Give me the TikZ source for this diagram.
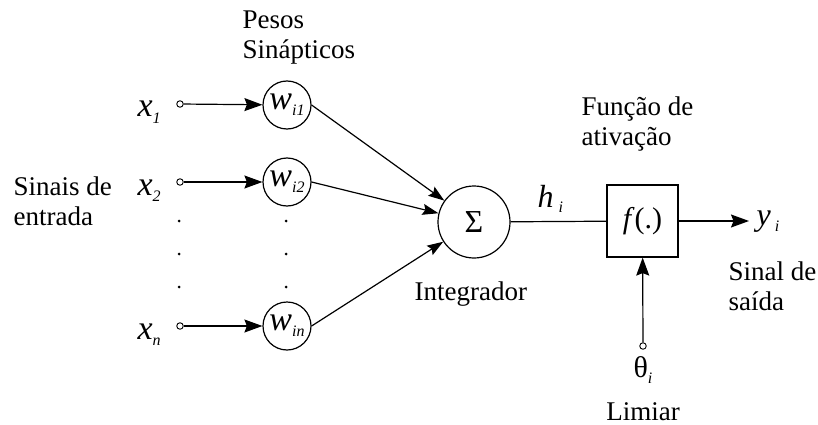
\documentclass[tikz,border=0pt]{standalone}
\usepackage{fontspec}
\setmainfont{Liberation Serif}
\usetikzlibrary{arrows.meta}
\newcommand{\mylbl}[3]{{\fontsize{#3}{#3}\selectfont\textit{#1}}\raisebox{-6pt}{\fontsize{16}{16}\selectfont\textit{#2}}}
\begin{document}
\begin{tikzpicture}[x=1pt,y=-1pt,
  line width=1.2pt,
  arr/.style={-{Stealth[length=18pt,width=13pt,inset=2.5pt]}},
  arrs/.style={-{Stealth[length=16pt,width=11pt,inset=2.5pt]}},
  wnode/.style={circle,draw,minimum size=48pt,inner sep=0pt},
  port/.style={circle,draw,line width=0.9pt,minimum size=6.5pt,inner sep=0pt,fill=white},
  txt/.style={inner sep=0pt,font=\fontsize{27}{30}\selectfont,align=left},
  lbl/.style={inner sep=0pt}
]
\useasboundingbox (0,0) rectangle (818,425);

% input ports
\node[port] (i1) at (180,104) {};
\node[port] (i2) at (180,182) {};
\node[port] (in) at (180,326) {};

% input labels
\node[lbl,anchor=base west] (x1) at (137,117) {\mylbl{x}{1}{34}};
\node[lbl,anchor=base west] (x2) at (137,195) {\mylbl{x}{2}{34}};
\node[lbl,anchor=base west] (xn) at (137,339) {\mylbl{x}{n}{34}};

% weights
\node[wnode] (w1) at (287,105) {\mylbl{w}{i1}{34}};
\node[wnode] (w2) at (287,182) {\mylbl{w}{i2}{34}};
\node[wnode] (wn) at (287,326) {\mylbl{w}{in}{34}};

% dots
\foreach \yy in {221,254,287}{
  \fill (179,\yy) circle (1.5pt);
  \fill (286,\yy) circle (1.5pt);
}

% summation
\node[circle,draw,minimum size=72pt,inner sep=0pt] (s) at (474,222) {\fontsize{32}{32}\selectfont Σ};

% activation box
\node[draw,minimum width=71pt,minimum height=72pt,inner sep=0pt] (f) at (642.5,221) {\fontsize{30}{30}\selectfont\textit{f}(.)};

% threshold
\node[port] (th) at (643,346) {};
\node[lbl,anchor=base west] (thl) at (633,377) {{\fontsize{30}{30}\selectfont θ}\raisebox{-6pt}{\fontsize{16}{16}\selectfont\textit{i}}};
\node[txt,anchor=base] (lim) at (643,420) {Limiar};

% output
\coordinate (yend) at (749,221);
\node[lbl,anchor=base west] (yl) at (756,225) {{\fontsize{32}{32}\selectfont\textit{y}}\hspace{4pt}\raisebox{-6pt}{\fontsize{16}{16}\selectfont\textit{i}}};

% h_i
\node[lbl,anchor=base west] (hl) at (537,207) {{\fontsize{32}{32}\selectfont\textit{h}}\hspace{5pt}\raisebox{-5pt}{\fontsize{16}{16}\selectfont\textit{i}}};

% texts
\node[txt,anchor=north west] (pesos) at (242,10) {Pesos\\Sinápticos};
\node[txt,anchor=north west] (sinais) at (13,176) {Sinais de\\entrada};
\node[txt,anchor=north west] (func) at (581,96) {Função de\\ativação};
\node[txt,anchor=north west] (saida) at (728,261) {Sinal de\\saída};
\node[txt,anchor=base west] (integ) at (414,300) {Integrador};

% connectors
\draw[arr] (i1) -- (w1);
\draw[arr] (i2) -- (w2);
\draw[arr] (in) -- (wn);
\draw[arrs] (w1.east) -- (s);
\draw[arrs] (w2.east) -- (s);
\draw[arrs] (wn.east) -- (s);
\draw (s) -- (f);
\draw[arr] (f) -- (yend);
\draw[arr] (th) -- (f);
\end{tikzpicture}
\end{document}
